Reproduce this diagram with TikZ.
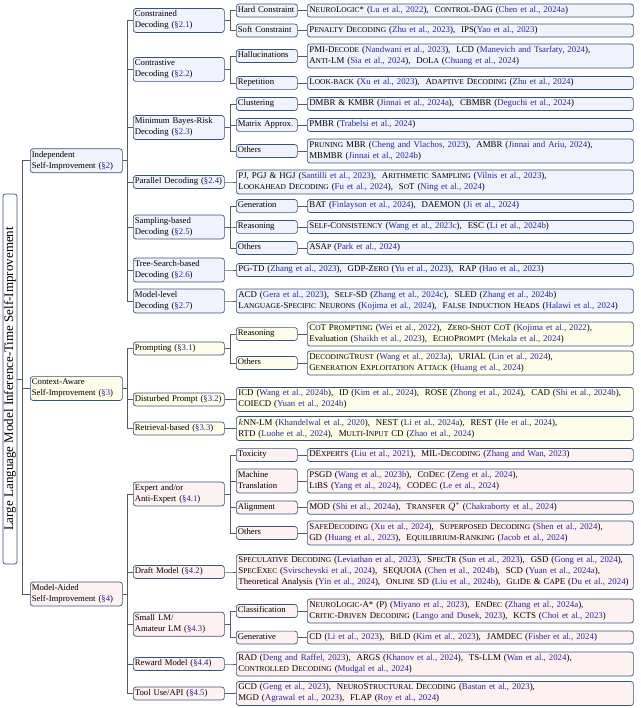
\documentclass[tikz,border=0pt]{standalone}
\usepackage{fontspec}
\setmainfont{Liberation Serif}
\usetikzlibrary{calc}
\definecolor{bcol}{RGB}{55,85,118}
\definecolor{fa}{RGB}{240,242,252}
\definecolor{fb}{RGB}{254,253,234}
\definecolor{fc}{RGB}{254,241,241}
\definecolor{citec}{RGB}{40,40,150}
\definecolor{ecol}{RGB}{90,90,90}
\newcommand\ct[1]{\textcolor{citec}{#1}}
\newcommand\smc[1]{{\fontsize{7.45}{11}\selectfont #1}}
\newcommand\fsz{\fontsize{8.85}{11}\selectfont}
\newcommand\fsl{\fontsize{8.7}{11}\selectfont}
\newcommand\mst{\rule[-2.2pt]{0pt}{8.2pt}}
\newcommand\sref[1]{(\ct{§#1})}
\tikzset{
 bx/.style={draw=bcol, line width=0.7pt, rounded corners=2.5pt, anchor=west, align=left,
   inner xsep=2pt, inner ysep=2.3pt, font=\fsz, execute at begin node=\mst, execute at end node=\mst},
 sa/.style={bx, fill=fa}, sb/.style={bx, fill=fb}, sc/.style={bx, fill=fc},
 wa/.style={text width=89pt, inner xsep=1.5pt, font=\fsl},
 wb/.style={text width=88pt, inner xsep=1.5pt, font=\fsl},
 wc/.style={text width=58pt, inner xsep=1.5pt, font=\fsl},
 wlf/.style={text width=322pt}, wll/.style={text width=393pt},
 edge/.style={draw=ecol, line width=0.7pt},
}
\begin{document}
\begin{tikzpicture}[x=1pt,y=-1pt]
\useasboundingbox (0,0) rectangle (640,708);
% root
\node[draw=bcol, fill=white, line width=0.7pt, rounded corners=2.5pt, minimum width=14pt, minimum height=370pt, inner sep=0pt, font=\fontsize{13}{15}\selectfont] (root) at (10,379) {\rotatebox{90}{Large Language Model Inference-Time Self-Improvement}};
% level 1
\node[sa,wa] (i2) at (30,160.75) {Independent\\Self-Improvement \sref{2}};
\node[sb,wa] (i3) at (30,388.5) {Context-Aware\\Self-Improvement \sref{3}};
\node[sc,wa] (i4) at (30,594) {Model-Aided\\Self-Improvement \sref{4}};
% level 2
\node[sa,wb] (c21) at (133,20.5) {Constrained\\Decoding \sref{2.1}};
\node[sa,wb] (c22) at (133,69.5) {Contrastive\\Decoding \sref{2.2}};
\node[sa,wb] (c23) at (133,127.5) {Minimum Bayes-Risk\\Decoding \sref{2.3}};
\node[sa,wb] (c24) at (133,182) {Parallel Decoding \sref{2.4}};
\node[sa,wb] (c25) at (133,227) {Sampling-based\\Decoding \sref{2.5}};
\node[sa,wb] (c26) at (133,270) {Tree-Search-based\\Decoding \sref{2.6}};
\node[sa,wb] (c27) at (133,301) {Model-level\\Decoding \sref{2.7}};
\node[sb,wb] (c31) at (133,348.5) {Prompting \sref{3.1}};
\node[sb,wb] (c32) at (133,399.5) {Disturbed Prompt \sref{3.2}};
\node[sb,wb] (c33) at (133,428.5) {Retrieval-based \sref{3.3}};
\node[sc,wb] (c41) at (133,494) {Expert and/or\\Anti-Expert \sref{4.1}};
\node[sc,wb] (c42) at (133,572) {Draft Model \sref{4.2}};
\node[sc,wb] (c43) at (133,624.25) {Small LM/\\Amateur LM \sref{4.3}};
\node[sc,wb] (c44) at (133,664) {Reward Model \sref{4.4}};
\node[sc,wb] (c45) at (133,693.5) {Tool Use/API \sref{4.5}};
% level 3
\node[sa,wc] (hc) at (236,10.5) {Hard Constraint};
\node[sa,wc] (scn) at (236,30.5) {Soft Constraint};
\node[sa,wc] (hal) at (236,56) {Hallucinations};
\node[sa,wc] (rep) at (236,83) {Repetition};
\node[sa,wc] (clu) at (236,104) {Clustering};
\node[sa,wc] (mat) at (236,125) {Matrix Approx.};
\node[sa,wc] (omb) at (236,151) {Others};
\node[sa,wc] (gen) at (236,206) {Generation};
\node[sa,wc] (rea) at (236,227) {Reasoning};
\node[sa,wc] (osa) at (236,248) {Others};
\node[sb,wc] (rpr) at (236,334) {Reasoning};
\node[sb,wc] (opr) at (236,363) {Others};
\node[sc,wc] (tox) at (236,455) {Toxicity};
\node[sc,wc] (mt) at (236,481) {Machine\\Translation};
\node[sc,wc] (ali) at (236,507.5) {Alignment};
\node[sc,wc] (oex) at (236,533) {Others};
\node[sc,wc] (cla) at (236,611) {Classification};
\node[sc,wc] (gnr) at (236,637.5) {Generative};
% leaves
\node[sa,wlf] (lhc) at (307,10.5) {N\smc{EURO}L\smc{OGIC}* (\ct{Lu et al., 2022}), \ C\smc{ONTROL}-DAG (\ct{Chen et al., 2024a})};
\node[sa,wlf] (lsc) at (307,30.5) {P\smc{ENALTY} D\smc{ECODING} (\ct{Zhu et al., 2023}), \ IPS(\ct{Yao et al., 2023})};
\node[sa,wlf] (lhal) at (307,56) {PMI-D\smc{ECODE} (\ct{Nandwani et al., 2023}), \ LCD (\ct{Manevich and Tsarfaty, 2024}),\\A\smc{NTI}-LM (\ct{Sia et al., 2024}), \ D\smc{O}L\smc{A} (\ct{Chuang et al., 2024})};
\node[sa,wlf] (lrep) at (307,83) {L\smc{OOK-BACK} (\ct{Xu et al., 2023}), \ A\smc{DAPTIVE} D\smc{ECODING} (\ct{Zhu et al., 2024})};
\node[sa,wlf] (lclu) at (307,104) {DMBR \& KMBR (\ct{Jinnai et al., 2024a}), \ CBMBR (\ct{Deguchi et al., 2024})};
\node[sa,wlf] (lmat) at (307,125) {PMBR (\ct{Trabelsi et al., 2024})};
\node[sa,wlf] (lomb) at (307,151) {P\smc{RUNING} MBR (\ct{Cheng and Vlachos, 2023}), \ AMBR (\ct{Jinnai and Ariu, 2024}),\\MBMBR (\ct{Jinnai et al., 2024b})};
\node[sa,wll] (l24) at (236,182) {PJ, PGJ \& HGJ (\ct{Santilli et al., 2023}), \ A\smc{RITHMETIC} S\smc{AMPLING} (\ct{Vilnis et al., 2023}),\\L\smc{OOKAHEAD} D\smc{ECODING} (\ct{Fu et al., 2024}), \ S\smc{O}T (\ct{Ning et al., 2024})};
\node[sa,wlf] (lgen) at (307,206) {BAT (\ct{Finlayson et al., 2024}), \ DAEMON (\ct{Ji et al., 2024})};
\node[sa,wlf] (lrea) at (307,227) {S\smc{ELF}-C\smc{ONSISTENCY} (\ct{Wang et al., 2023c}), \ ESC (\ct{Li et al., 2024b})};
\node[sa,wlf] (losa) at (307,248) {ASA\smc{P} (\ct{Park et al., 2024})};
\node[sa,wll] (l26) at (236,270) {PG-TD (\ct{Zhang et al., 2023}), \ GDP-Z\smc{ERO} (\ct{Yu et al., 2023}), \ RAP (\ct{Hao et al., 2023})};
\node[sa,wll] (l27) at (236,301) {ACD (\ct{Gera et al., 2023}), \ S\smc{ELF}-SD (\ct{Zhang et al., 2024c}), \ SLED (\ct{Zhang et al., 2024b})\\L\smc{ANGUAGE}-S\smc{PECIFIC} N\smc{EURONS} (\ct{Kojima et al., 2024}), \ F\smc{ALSE} I\smc{NDUCTION} H\smc{EADS} (\ct{Halawi et al., 2024})};
\node[sb,wlf] (lrpr) at (307,334) {C\smc{O}T P\smc{ROMPTING} (\ct{Wei et al., 2022}), \ Z\smc{ERO}-S\smc{HOT} C\smc{O}T (\ct{Kojima et al., 2022}),\\Evaluation (\ct{Shaikh et al., 2023}), \ E\smc{CHO}P\smc{ROMPT} (\ct{Mekala et al., 2024})};
\node[sb,wlf] (lopr) at (307,363) {D\smc{ECODING}T\smc{RUST} (\ct{Wang et al., 2023a}), \ URIAL (\ct{Lin et al., 2024}),\\G\smc{ENERATION} E\smc{XPLOITATION} A\smc{TTACK} (\ct{Huang et al., 2024})};
\node[sb,wll] (l32) at (236,399.5) {ICD (\ct{Wang et al., 2024b}), \ ID (\ct{Kim et al., 2024}), \ ROSE (\ct{Zhong et al., 2024}), \ CAD (\ct{Shi et al., 2024b}),\\COIECD (\ct{Yuan et al., 2024b})};
\node[sb,wll] (l33) at (236,428.5) {$k$NN-LM (\ct{Khandelwal et al., 2020}), \ NEST (\ct{Li et al., 2024a}), \ REST (\ct{He et al., 2024}),\\RTD (\ct{Luohe et al., 2024}), \ M\smc{ULTI}-I\smc{NPUT} CD (\ct{Zhao et al., 2024})};
\node[sc,wlf] (ltox) at (307,455) {DE\smc{XPERTS} (\ct{Liu et al., 2021}), \ MIL-D\smc{ECODING} (\ct{Zhang and Wan, 2023})};
\node[sc,wlf] (lmt) at (307,481) {PSGD (\ct{Wang et al., 2023b}), \ C\smc{O}D\smc{EC} (\ct{Zeng et al., 2024}),\\L\smc{I}BS (\ct{Yang et al., 2024}), \ CODEC (\ct{Le et al., 2024})};
\node[sc,wlf] (lali) at (307,507.5) {MOD (\ct{Shi et al., 2024a}), \ T\smc{RANSFER} $Q^*$ (\ct{Chakraborty et al., 2024})};
\node[sc,wlf] (loex) at (307,533) {S\smc{AFE}D\smc{ECODING} (\ct{Xu et al., 2024}), \ S\smc{UPERPOSED} D\smc{ECODING} (\ct{Shen et al., 2024}),\\GD (\ct{Huang et al., 2023}), \ E\smc{QUILIBRIUM}-R\smc{ANKING} (\ct{Jacob et al., 2024})};
\node[sc,wll] (l42) at (236,572) {S\smc{PECULATIVE} D\smc{ECODING} (\ct{Leviathan et al., 2023}), \ S\smc{PEC}T\smc{R} (\ct{Sun et al., 2023}), \ GSD (\ct{Gong et al., 2024}),\\S\smc{PEC}E\smc{XEC} (\ct{Svirschevski et al., 2024}), \ SEQUOIA (\ct{Chen et al., 2024b}), \ SCD (\ct{Yuan et al., 2024a}),\\Theoretical Analysis (\ct{Yin et al., 2024}), \ O\smc{NLINE} SD (\ct{Liu et al., 2024b}), \ G\smc{LI}D\smc{E} \& C\smc{A}PE (\ct{Du et al., 2024})};
\node[sc,wlf] (lcla) at (307,611) {N\smc{EURO}L\smc{OGIC}-A* (P) (\ct{Miyano et al., 2023}), \ E\smc{N}D\smc{EC} (\ct{Zhang et al., 2024a}),\\C\smc{RITIC}-D\smc{RIVEN} D\smc{ECODING} (\ct{Lango and Dusek, 2023}), \ KCTS (\ct{Choi et al., 2023})};
\node[sc,wlf] (lgnr) at (307,637.5) {CD (\ct{Li et al., 2023}), \ B\smc{I}LD (\ct{Kim et al., 2023}), \ JAMDEC (\ct{Fisher et al., 2024})};
\node[sc,wll] (l44) at (236,664) {RAD (\ct{Deng and Raffel, 2023}), \ ARGS (\ct{Khanov et al., 2024}), \ TS-LLM (\ct{Wan et al., 2024}),\\C\smc{ONTROLLED} D\smc{ECODING} (\ct{Mudgal et al., 2024})};
\node[sc,wll] (l45) at (236,693.5) {GCD (\ct{Geng et al., 2023}), \ N\smc{EURO}S\smc{TRUCTURAL} D\smc{ECODING} (\ct{Bastan et al., 2023}),\\MGD (\ct{Agrawal et al., 2023}), \ FLAP (\ct{Roy et al., 2024})};
% edges
\foreach \c in {i2,i3,i4} \draw[edge] (root.east) -- ++(5,0) |- (\c.west);
\foreach \p/\c in {i2/c21,i2/c22,i2/c23,i2/c24,i2/c25,i2/c26,i2/c27,i3/c31,i3/c32,i3/c33,i4/c41,i4/c42,i4/c43,i4/c44,i4/c45}
  \draw[edge] (\p.east) -- ++(4.5,0) |- (\c.west);
\foreach \p/\c in {c21/hc,c21/scn,c22/hal,c22/rep,c23/clu,c23/mat,c23/omb,c24/l24,c25/gen,c25/rea,c25/osa,c26/l26,c27/l27,c31/rpr,c31/opr,c32/l32,c33/l33,c41/tox,c41/mt,c41/ali,c41/oex,c42/l42,c43/cla,c43/gnr,c44/l44,c45/l45}
  \draw[edge] (\p.east) -- ++(6,0) |- (\c.west);
\foreach \p/\c in {hc/lhc,scn/lsc,hal/lhal,rep/lrep,clu/lclu,mat/lmat,omb/lomb,gen/lgen,rea/lrea,osa/losa,rpr/lrpr,opr/lopr,tox/ltox,mt/lmt,ali/lali,oex/loex,cla/lcla,gnr/lgnr}
  \draw[edge] (\p.east) -- (\c.west);
\end{tikzpicture}
\end{document}
